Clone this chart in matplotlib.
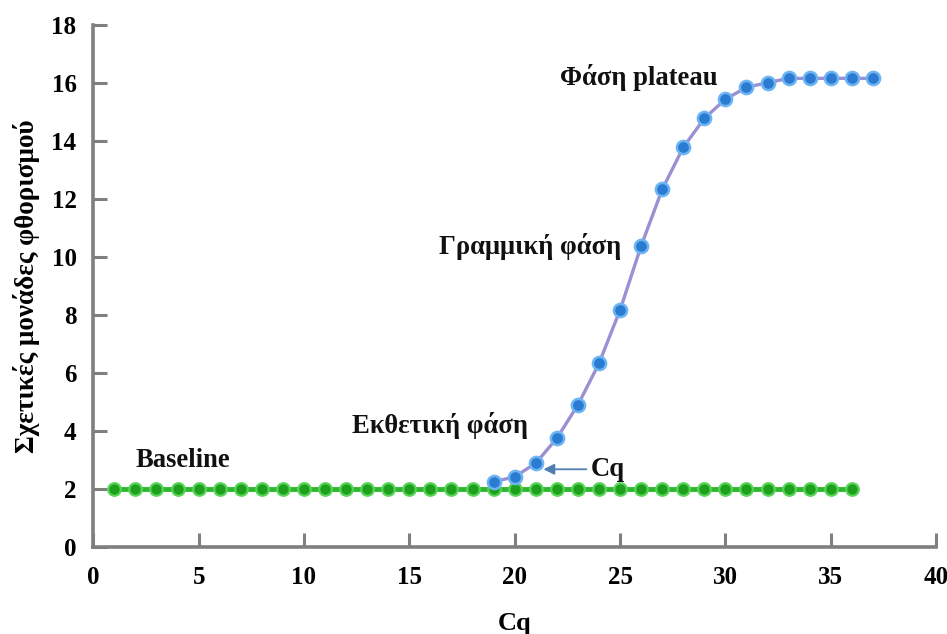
import matplotlib
matplotlib.use("Agg")
import matplotlib.pyplot as plt

# ---- data ----
baseline_cycles = list(range(1, 37))
baseline_values = [2.0] * 36

curve_cycles = list(range(19, 38))
curve_values = [2.25, 2.42, 2.89, 3.75, 4.90, 6.33, 8.17, 10.38, 12.33, 13.78,
                14.78, 15.44, 15.85, 16.01, 16.16, 16.16, 16.16, 16.16, 16.16]

x_ticks = [0, 5, 10, 15, 20, 25, 30, 35, 40]
y_ticks = [0, 2, 4, 6, 8, 10, 12, 14, 16, 18]

x_label = "Cq"
y_label = "Σχετικές μονάδες φθορισμού"
phase_labels = ["Φάση plateau", "Γραμμική φάση", "Εκθετική φάση", "Baseline"]
cq_label = "Cq"
cq_point = (21.3, 2.68)

plt.rcParams['font.family'] = ['Liberation Serif', 'DejaVu Serif']
plt.rcParams['font.weight'] = 'bold'

fig = plt.figure(figsize=(9.47, 6.34), dpi=100)
ax = fig.add_axes([0.0985, 0.1372, 0.890, 0.8234])

axis_gray = '#7f7f7f'

ax.plot(baseline_cycles, baseline_values, color='#2fb82f', lw=3.5, zorder=2,
        marker='o', ms=9, mfc='#1ea01e', mec='#55d455', mew=1.6)
ax.plot(curve_cycles, curve_values, color='#9c8fd2', lw=2.4, zorder=3,
        marker='o', ms=9.5, mfc='#2c7bd2', mec='#6db5f2', mew=1.8)

ax.set_xlim(0, 40)
ax.set_ylim(0, 18)
ax.set_xticks(x_ticks)
ax.set_yticks(y_ticks)
ax.tick_params(axis='both', direction='in', length=10, width=2.2, color=axis_gray,
               labelsize=18)
ax.tick_params(axis='x', pad=14)
ax.tick_params(axis='y', pad=12)
for lab in ax.get_xticklabels() + ax.get_yticklabels():
    lab.set_fontweight('bold')

for s in ['top', 'right']:
    ax.spines[s].set_visible(False)
for s in ['left', 'bottom']:
    ax.spines[s].set_color(axis_gray)
    ax.spines[s].set_linewidth(2.6)

ax.set_xlabel(x_label, fontsize=19, fontweight='bold', labelpad=16)
ax.set_ylabel(y_label, fontsize=19.5, fontweight='bold', labelpad=8)

tk = dict(fontsize=19.2, fontweight='bold', color='#111111', va='center', ha='left')
ax.text(22.15, 16.2, phase_labels[0], **tk)
ax.text(16.4, 10.36, phase_labels[1], **tk)
ax.text(12.3, 4.2, phase_labels[2], **tk)
ax.text(2.0, 3.0, phase_labels[3], **tk)

ax.annotate(cq_label, xy=cq_point, xytext=(23.6, 2.68), fontsize=19.2,
            fontweight='bold', color='#111111', va='center', ha='left',
            arrowprops=dict(arrowstyle='-|>', color='#4f7db0', lw=1.3,
                            mutation_scale=16, shrinkA=1, shrinkB=1))

fig.savefig('out.png', dpi=100)
